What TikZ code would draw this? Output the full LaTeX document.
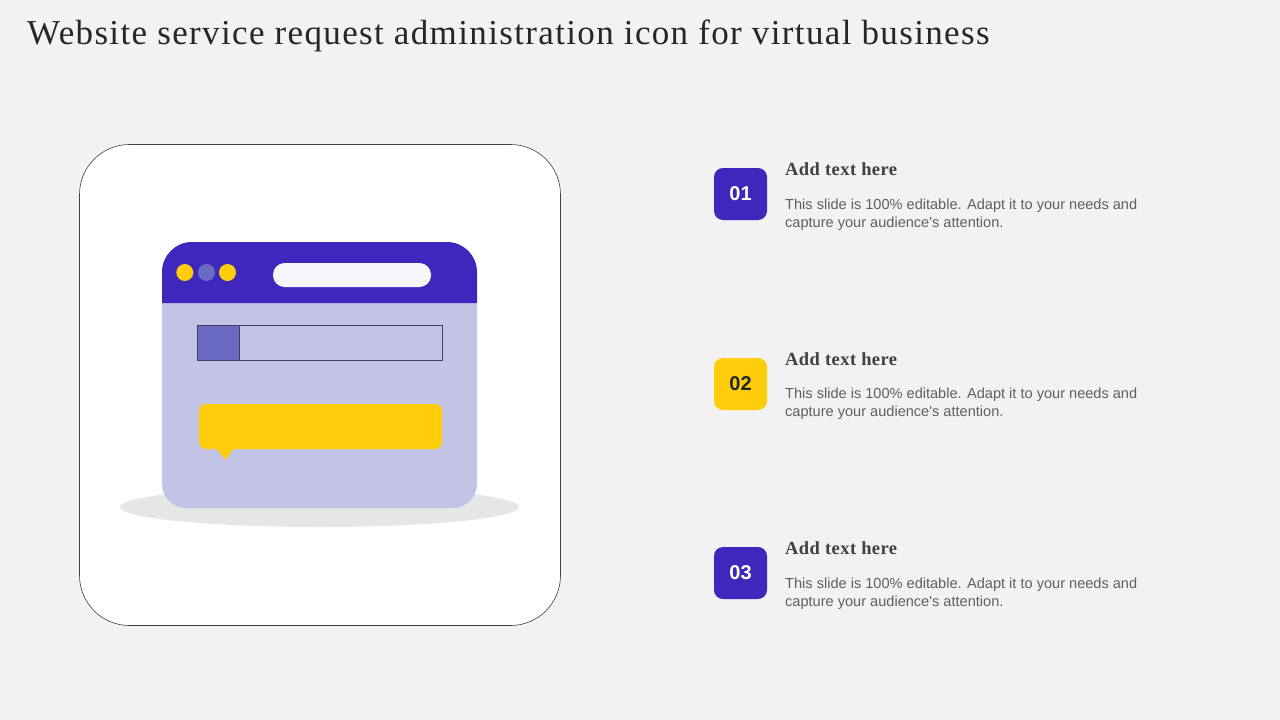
\documentclass[tikz,border=0pt]{standalone}
\usepackage{fontspec}
\setmainfont{Liberation Serif}
\newfontfamily\bodyfont{Liberation Sans}
\newfontfamily\titlefont[LetterSpace=3.87]{Liberation Serif}
\newfontfamily\headfont[LetterSpace=2.4]{Liberation Serif}
\definecolor{bgc}{HTML}{F2F2F2}
\definecolor{indigo}{HTML}{3D27BC}
\definecolor{lilac}{HTML}{C3C3E6}
\definecolor{midblue}{HTML}{6A6AC2}
\definecolor{amber}{HTML}{FFCD0A}
\definecolor{shadowc}{HTML}{E6E6E6}
\definecolor{barline}{HTML}{3F3F66}
\definecolor{headc}{HTML}{404040}
\definecolor{bodyc}{HTML}{5F5F5F}
\definecolor{pill}{HTML}{F5F5FA}
\tikzset{
  x=1pt,y=-1pt,
  badge/.style={rounded corners=9pt,minimum width=53pt,minimum height=52pt,inner sep=0pt,text=white,font=\bodyfont\fontsize{20}{24}\selectfont\bfseries},
  headtxt/.style={anchor=base west,inner sep=0pt,text=headc,font=\headfont\fontsize{18.5}{22}\selectfont\bfseries},
  bodytxt/.style={anchor=north west,inner sep=0pt,text=bodyc,align=left,font=\bodyfont\fontsize{14.57}{18}\selectfont},
  dot/.style={circle,minimum size=17pt,inner sep=0pt},
}
\begin{document}
\begin{tikzpicture}
\useasboundingbox (0,0) rectangle (1280,720);
\fill[bgc] (0,0) rectangle (1280,720);
\node[anchor=base west,inner sep=0pt,text=black!85,font=\titlefont\fontsize{35}{40}\selectfont] (title) at (27,44) {Website service request administration icon for virtual business};
% card
\draw[fill=white,draw=black!75,line width=0.6pt,rounded corners=50pt] (79.5,144.5) rectangle (560.5,625.5);
% shadow
\fill[shadowc] (319.5,507) ellipse [x radius=199.5,y radius=20];
% window
\fill[lilac,rounded corners=24pt] (162,280) rectangle (477,508);
\fill[indigo] (162,303) [rounded corners=30pt] -- (162,242) -- (477,242) [sharp corners] -- (477,303) -- cycle;
\node[dot,fill=amber] (d1) at (184.8,272.5) {};
\node[dot,fill=midblue] (d2) at (206.5,272.5) {};
\node[dot,fill=amber] (d3) at (227.5,272.5) {};
\fill[pill,rounded corners=11.5pt] (273,263) rectangle (431,287);
% bar
\draw[fill=lilac,draw=barline,line width=0.8pt] (197.5,325.5) rectangle (442.5,360.5);
\draw[fill=midblue,draw=barline,line width=0.8pt] (197.5,325.5) rectangle (239.5,360.5);
% bubble
\fill[amber,rounded corners=7pt] (199,404) rectangle (442,449);
\fill[amber,rounded corners=1pt] (216,448) -- (234,448) -- (225.5,460) -- cycle;
% items
\node[badge,fill=indigo] (b1) at (740.5,194) {\raisebox{-1.5pt}{01}};
\node[badge,fill=amber,text=black!85] (b2) at (740.5,384) {\raisebox{-1.5pt}{02}};
\node[badge,fill=indigo] (b3) at (740.5,573) {\raisebox{-1.5pt}{03}};
\node[headtxt] (h1) at (785,175) {Add text here};
\node[headtxt] (h2) at (785,365) {Add text here};
\node[headtxt] (h3) at (785,554) {Add text here};
\node[bodytxt] (t1) at (785,198.5) {This slide is 100\% editable. Adapt it to your needs and\\capture your audience's attention.};
\node[bodytxt] (t2) at (785,387.5) {This slide is 100\% editable. Adapt it to your needs and\\capture your audience's attention.};
\node[bodytxt] (t3) at (785,577.5) {This slide is 100\% editable. Adapt it to your needs and\\capture your audience's attention.};
\end{tikzpicture}
\end{document}
